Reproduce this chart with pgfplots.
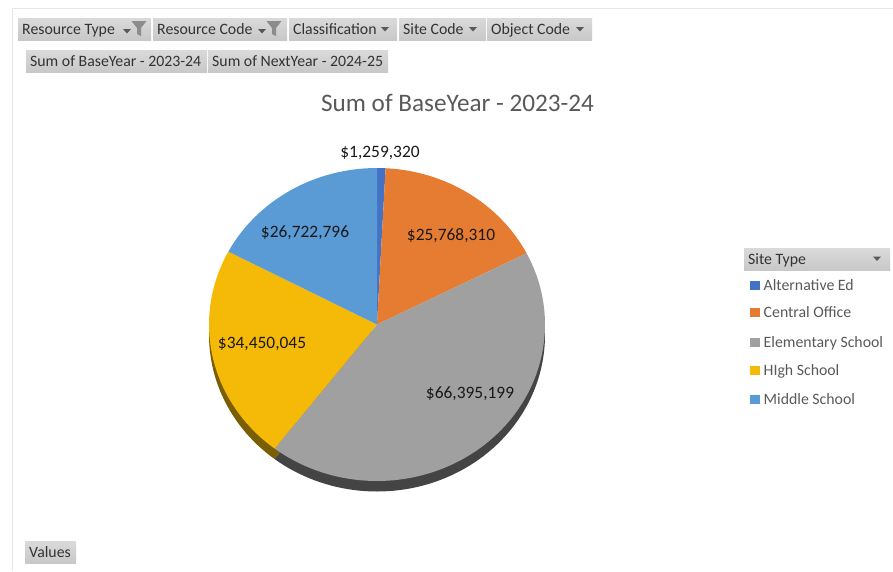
\documentclass[border=0pt]{standalone}
\usepackage{fontspec}
\setmainfont{Carlito}
\usepackage{pgfplots}
\pgfplotsset{compat=1.18}
\definecolor{cA}{HTML}{4472C4}
\definecolor{cB}{HTML}{E57C32}
\definecolor{cC}{HTML}{A0A0A0}
\definecolor{cD}{HTML}{F5B908}
\definecolor{cE}{HTML}{5B9BD5}
\definecolor{sC}{HTML}{444444}
\definecolor{sD}{HTML}{7A5E04}
\definecolor{btnT}{HTML}{DADADA}
\definecolor{btnB}{HTML}{C8C8C8}
\definecolor{frameln}{HTML}{E6E6E6}
\definecolor{ttl}{HTML}{595959}
% Chart values (millions of dollars)
\def\valA{1.259320}
\def\valB{25.768310}
\def\valC{66.395199}
\def\valD{34.450045}
\def\valE{26.722796}
\pgfmathsetmacro\tot{\valA+\valB+\valC+\valD+\valE}
\pgfmathsetmacro\angA{\valA/\tot*360}
\pgfmathsetmacro\angB{\angA+\valB/\tot*360}
\pgfmathsetmacro\angC{\angB+\valC/\tot*360}
\pgfmathsetmacro\angD{\angC+\valD/\tot*360}
\def\cx{377}\def\cy{324.5}\def\rx{168}\def\ry{156.5}
\newcommand\buildwedge[4]{% start, end, vertical shift, target macro
  \pgfmathsetmacro\yc{\cy+#3}
  \xdef#4{(\cx,\yc)}
  \pgfmathtruncatemacro\nn{ceil((#2-#1)/2)}
  \foreach \ii in {0,...,\nn}{
    \pgfmathsetmacro\th{#1+(#2-#1)*\ii/\nn}
    \pgfmathsetmacro\px{\cx+\rx*sin(\th)}
    \pgfmathsetmacro\py{\yc-\ry*cos(\th)}
    \xdef#4{#4 (\px,\py)}
  }
  \xdef#4{#4 (\cx,\yc)}
}
\buildwedge{0}{\angA}{0}{\wA}
\buildwedge{\angA}{\angB}{0}{\wB}
\buildwedge{\angB}{\angC}{0}{\wC}
\buildwedge{\angC}{\angD}{0}{\wD}
\buildwedge{\angD}{360}{0}{\wE}
\buildwedge{\angB}{\angC}{10.5}{\wCs}
\buildwedge{\angC}{\angD}{10.5}{\wDs}
\newcommand\wedgeplot[2]{\edef\tmpplot{\noexpand\addplot[fill=#1,draw=none,forget plot] coordinates {#2};}\tmpplot}
\newcommand\btn[5]{% x0 x1 y0 y1 text
  \shade[top color=btnT,bottom color=btnB] (#1,#3) rectangle (#2,#4);
  \node[anchor=base west,inner sep=0pt,font=\fontsize{15.8}{15.8}\selectfont,text=black!80] at (#1+4,{(#3+#4)/2+5}) {#5};
}
\newcommand\tridown[2]{\fill[black!65] (#1-4,#2-2) -- (#1+4,#2-2) -- (#1,#2+2.5) -- cycle;}
\newcommand\funnel[2]{\fill[black!45] (#1-7.5,#2-7) -- (#1+7.5,#2-7) -- (#1+2,#2) -- (#1+2,#2+8) -- (#1-2,#2+6) -- (#1-2,#2) -- cycle;}
\newcommand\legitem[3]{%
  \fill[#1] (750,#2-4.5) rectangle (760,#2+4.5);
  \node[anchor=base west,inner sep=0pt,font=\fontsize{15.8}{15.8}\selectfont,text=ttl] at (763.5,#2+5) {#3};
}
\newcommand\dlabel[3]{\node[font=\fontsize{17.4}{17.4}\selectfont,text=black!90] at (#1,#2) {#3};}
\begin{document}
\begin{tikzpicture}
\begin{axis}[
  scale only axis, width=893pt, height=571pt,
  xmin=0, xmax=893, ymin=0, ymax=571, y dir=reverse,
  hide axis, clip=false,
]
\path (0,0) rectangle (893,571);
% frame
\fill[frameln] (11.5,8) rectangle (13,571);
\fill[frameln] (11.5,7.5) rectangle (893,9);
% filter buttons
\btn{18}{151}{18}{40}{Resource Type}
\btn{153}{287}{18}{40}{Resource Code}
\btn{289}{397}{18}{40}{Classification}
\btn{399}{486}{18}{40}{Site Code}
\btn{487}{592}{18}{40}{Object Code}
\tridown{127}{31}\funnel{139}{28}
\tridown{262}{31}\funnel{274}{28}
\tridown{385}{29}\tridown{473}{29}\tridown{580}{29}
\btn{26}{207}{50}{72}{Sum of BaseYear - 2023-24}
\btn{208}{388}{50}{72}{Sum of NextYear - 2024-25}
\btn{25}{76}{541}{563}{Values}
% title
\node[font=\fontsize{25.2}{25.2}\selectfont,text=ttl] at (457.5,102.5) {Sum of BaseYear - 2023-24};
% pie: side, then top
\wedgeplot{sD}{\wDs}
\wedgeplot{sC}{\wCs}
\wedgeplot{cA}{\wA}
\wedgeplot{cB}{\wB}
\wedgeplot{cC}{\wC}
\wedgeplot{cD}{\wD}
\wedgeplot{cE}{\wE}
% data labels
\dlabel{380}{152.5}{\$1,259,320}
\dlabel{451}{236}{\$25,768,310}
\dlabel{470}{393.5}{\$66,395,199}
\dlabel{262}{344}{\$34,450,045}
\dlabel{305}{233}{\$26,722,796}
% legend
\btn{744}{890}{248}{270}{Site Type}
\tridown{877}{258.5}
\legitem{cA}{285}{Alternative Ed}
\legitem{cB}{312.5}{Central Office}
\legitem{cC}{342}{Elementary School}
\legitem{cD}{370}{HIgh School}
\legitem{cE}{399}{Middle School}
\end{axis}
\end{tikzpicture}
\end{document}
